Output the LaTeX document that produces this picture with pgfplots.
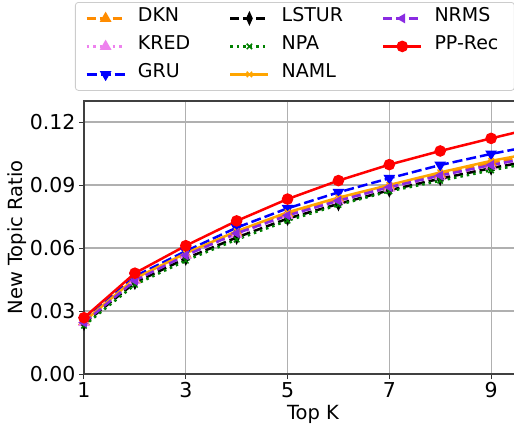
\documentclass[border=0pt]{standalone}
\usepackage{fontspec}
\setmainfont{DejaVu Sans}
\usepackage{pgfplots}
\pgfplotsset{compat=1.18}
\usetikzlibrary{plotmarks}
\definecolor{cDKN}{HTML}{FF8C00}
\definecolor{cKRED}{HTML}{EE82EE}
\definecolor{cGRU}{HTML}{0000FF}
\definecolor{cLSTUR}{HTML}{000000}
\definecolor{cNPA}{HTML}{008000}
\definecolor{cNAML}{HTML}{FFA500}
\definecolor{cNRMS}{HTML}{8A2BE2}
\definecolor{cPP}{HTML}{FF0000}
\definecolor{gridc}{HTML}{B0B0B0}
\pgfplotsset{myleg/.style={legend image code/.code={\draw[mark repeat=2,mark phase=2,##1] plot coordinates {(0pt,0pt) (19pt,0pt) (38pt,0pt)};\path (44pt,0pt);}}}
\pgfplotstableread{
x DKN KRED GRU LSTUR NPA NAML NRMS PP
1 0.0250 0.0245 0.0255 0.0240 0.0230 0.0250 0.0245 0.0268
2 0.0450 0.0445 0.0465 0.0435 0.0425 0.0455 0.0445 0.0480
3 0.0570 0.0565 0.0585 0.0550 0.0540 0.0575 0.0565 0.0611
4 0.0675 0.0665 0.0697 0.0650 0.0640 0.0680 0.0670 0.0729
5 0.0765 0.0755 0.0789 0.0740 0.0730 0.0770 0.0755 0.0833
6 0.0835 0.0825 0.0865 0.0810 0.0805 0.0840 0.0825 0.0921
7 0.0895 0.0885 0.0932 0.0875 0.0870 0.0900 0.0890 0.0997
8 0.0950 0.0940 0.0995 0.0930 0.0920 0.0960 0.0945 0.1062
9 0.1005 0.0990 0.1048 0.0980 0.0970 0.1015 0.0995 0.1122
10 0.1050 0.1035 0.1095 0.1025 0.1015 0.1060 0.1040 0.1180
}\data
\begin{document}
\begin{tikzpicture}
\path[use as bounding box] (-84pt,-52pt) rectangle (430pt,374pt);
\begin{axis}[
  scale only axis,
  width=458pt, height=273pt,
  xmin=1, xmax=10, ymin=0, ymax=0.13,
  xtick={1,3,5,7,9},
  ytick={0,0.03,0.06,0.09,0.12},
  yticklabel style={/pgf/number format/fixed,/pgf/number format/fixed zerofill,/pgf/number format/precision=2},
  /pgf/number format/assume math mode=true,
  ticklabel style={font=\fontsize{20.5}{24}\selectfont},
  label style={font=\fontsize{19.5}{23}\selectfont},
  xlabel={Top K},
  ylabel={New Topic Ratio},
  ylabel style={xshift=0pt, yshift=-4pt},
  tick align=outside,
  tick pos=left,
  major tick length=5pt,
  every tick/.style={black!80, line width=1pt},
  axis line style={black!75, line width=1.1pt},
  grid=major,
  major grid style={gridc, line width=1.1pt},
  legend columns=3,
  transpose legend,
  legend cell align=left,
  legend style={at={(-0.0197,1.3626)}, anchor=north west,
    draw=black!20, rounded corners=3pt, line width=0.8pt,
    inner xsep=10pt, inner ysep=2pt,
    font=\fontsize{19}{22}\selectfont,
    nodes={inner xsep=6pt, inner ysep=5.5pt, text height=11.5pt, text depth=5.5pt},
    /tikz/every even column/.append style={column sep=33pt}},
  every axis plot/.append style={line width=2.5pt, line cap=butt},
]
\addplot[myleg, cDKN, dash pattern=on 9pt off 4pt, mark=triangle*, mark size=4.3pt, mark options={solid}] table[x=x,y=DKN]{\data};
\addlegendentry{DKN}
\addplot[myleg, cKRED, dash pattern=on 2.5pt off 4pt, mark=triangle*, mark size=4.3pt, mark options={solid}] table[x=x,y=KRED]{\data};
\addlegendentry{KRED}
\addplot[myleg, cGRU, dash pattern=on 10pt off 4pt, mark=triangle*, mark size=4.3pt, mark options={solid, rotate=180}] table[x=x,y=GRU]{\data};
\addlegendentry{GRU}
\addplot[myleg, cLSTUR, dash pattern=on 9pt off 4pt, mark=diamond*, mark size=4.5pt, mark options={solid, xscale=0.6}] table[x=x,y=LSTUR]{\data};
\addlegendentry{LSTUR}
\addplot[myleg, cNPA, dash pattern=on 2.5pt off 4pt, mark=x, mark size=3.8pt, mark options={solid, line width=1.5pt}] table[x=x,y=NPA]{\data};
\addlegendentry{NPA}
\addplot[myleg, cNAML, solid, mark=x, mark size=3.8pt, mark options={solid, line width=1.5pt}] table[x=x,y=NAML]{\data};
\addlegendentry{NAML}
\addplot[myleg, cNRMS, dash pattern=on 9pt off 4pt, mark=triangle*, mark size=3.3pt, mark options={solid, rotate=90}] table[x=x,y=NRMS]{\data};
\addlegendentry{NRMS}
\addplot[myleg, cPP, solid, mark=*, mark size=4.5pt, mark options={solid}] table[x=x,y=PP]{\data};
\addlegendentry{PP-Rec}
\end{axis}
\end{tikzpicture}
\end{document}
